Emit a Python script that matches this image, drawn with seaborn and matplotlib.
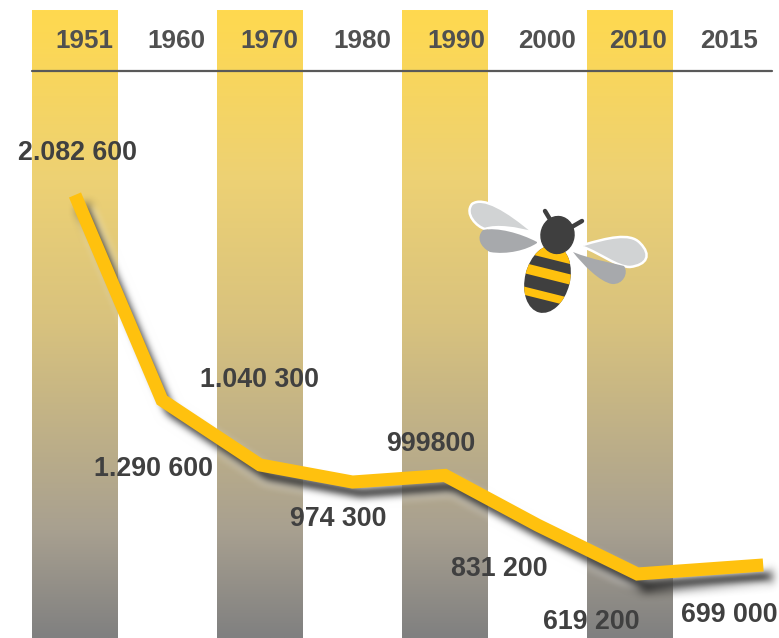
#!/usr/bin/env python3

import numpy as np
import pandas as pd
from matplotlib import pyplot as plt
from matplotlib.colors import LinearSegmentedColormap
from matplotlib.patches import Ellipse, PathPatch
from matplotlib.path import Path
from matplotlib.transforms import Affine2D, ScaledTranslation
import seaborn as sns

years = ['1951', '1960', '1970', '1980', '1990', '2000', '2010', '2015']
year_dx = [9, 8.5, 9, 9.5, 11, 9.5, 8, 6.5]
line_pos = [0.0, 0.94, 2.0, 3.0, 4.0, 5.0, 6.08, 7.44]
# values as the line is drawn in the picture, 2000 and 2015 differ from their labels
line_values = [2082600, 1290600, 1040300, 974300, 999800, 808000, 619200, 654000]
value_labels = ['2.082 600', '1.290 600', '1.040 300', '974 300',
                '999800', '831 200', '619 200', '699 000']
# label offset from its point, in pixels
label_dx = [2, -8, -1, -14.5, -14, -38, -46, -34]
label_dy = [41.5, -69, 85, -37, 31, -44, -48, -50]

W, H = 779, 638
STEP = 92.5
VAL_PER_PX = 3861.0


def px_x(p):
    return (p - 75) / STEP


def px_y(p):
    return 619200 + (574 - p) * VAL_PER_PX


def blur(image, dpi, radius=4):
    # box blur three times, no scipy here
    pad = radius * 4
    img = np.pad(image, ((pad, pad), (pad, pad), (0, 0)))
    kernel = np.ones(2 * radius + 1) / (2 * radius + 1)
    for _ in range(3):
        for axis in (0, 1):
            img = np.apply_along_axis(np.convolve, axis, img, kernel, mode='same')
    return img, -pad, -pad


sns.set_style('white')
plt.rcParams['font.family'] = ['Liberation Sans', 'DejaVu Sans']

fig = plt.figure(figsize=(W / 100, H / 100), dpi=100)
ax = fig.add_axes([0, 0, 1, 1])
ax.axis('off')

band_cmap = LinearSegmentedColormap.from_list(
    'band', [(0.0, '#ffd94f'), (0.27, '#edd174'), (0.5, '#d8c27e'),
             (0.83, '#a8a090'), (1.0, '#808080')])
gradient = np.linspace(0, 1, 256).reshape(-1, 1)
for i in range(0, 8, 2):
    ax.imshow(gradient, cmap=band_cmap, aspect='auto', zorder=1,
              extent=[i - 43 / STEP, i + 43 / STEP, px_y(638), px_y(10)])

df = pd.DataFrame({'pos': line_pos, 'value': line_values})

sns.lineplot(data=df, x='pos', y='value', ax=ax, sort=False, color='#2e2e2e',
             lw=9.4, legend=False, zorder=2)
shadow = ax.lines[-1]
shadow.set_transform(ax.transData + ScaledTranslation(8 / 100, -11 / 100, fig.dpi_scale_trans))
shadow.set_solid_joinstyle('miter')
shadow.set_solid_capstyle('butt')
shadow.set_agg_filter(blur)
shadow.set_rasterized(True)

sns.lineplot(data=df, x='pos', y='value', ax=ax, sort=False, color='#ffc10e',
             lw=9.4, legend=False, zorder=3)
ax.lines[-1].set_solid_joinstyle('miter')
ax.lines[-1].set_solid_capstyle('butt')

ax.set_xlim(px_x(0), px_x(W))
ax.set_ylim(px_y(H), px_y(0))

ax.plot([px_x(32), px_x(772)], [px_y(70.5), px_y(70.5)], color='#595959', lw=1.6, zorder=4)

for i, year in enumerate(years):
    ax.annotate(year, xy=(i, px_y(41)), xytext=(year_dx[i] * 0.72, 0), textcoords='offset points',
                ha='center', va='center', fontsize=18.7, fontweight='bold',
                color='#505050', zorder=5)

for x, y, label, dx, dy in zip(line_pos, line_values, value_labels, label_dx, label_dy):
    ax.annotate(label, xy=(x, y), xytext=(dx * 0.72, dy * 0.72), textcoords='offset points',
                ha='center', va='center', fontsize=19.3, fontweight='bold',
                color='#404040', zorder=5)

# bee, drawn in pixel coordinates on its own layer
bee = fig.add_axes([0, 0, 1, 1], zorder=6)
bee.set_xlim(0, W)
bee.set_ylim(H, 0)
bee.axis('off')
bee.patch.set_alpha(0)


def blob(points, face, edge='none', lw=0):
    codes = [Path.MOVETO] + [Path.CURVE4] * (len(points) - 1)
    bee.add_patch(PathPatch(Path(points, codes), facecolor=face, edgecolor=edge, lw=lw))


blob([(534, 233), (507, 210), (483, 196), (472, 204), (464, 214), (477, 227), (485, 229),
      (497, 225), (517, 228), (534, 233)], '#d1d3d4', 'white', 1.8)
blob([(537, 242), (520, 233), (497, 227), (483, 230), (476, 237), (480, 247), (490, 252),
      (507, 255), (527, 250), (537, 243)], '#a7a9ac')
blob([(583, 245), (607, 238), (630, 232), (640, 243), (652, 255), (647, 265), (630, 267),
      (617, 267), (600, 253), (583, 247)], '#d1d3d4', 'white', 1.8)
blob([(573, 252), (583, 265), (600, 282), (612, 284), (623, 285), (629, 273), (624, 266),
      (613, 263), (593, 260), (573, 252)], '#a7a9ac')

bee.plot([545, 551], [211, 221], color='#3f3f3f', lw=3.2, solid_capstyle='round')
bee.plot([582, 570], [221, 228], color='#3f3f3f', lw=3.2, solid_capstyle='round')

body = Ellipse((547.5, 279), 45, 69, angle=14, facecolor='#3f3f3f', edgecolor='none')
bee.add_patch(body)
stripe_y = [-26, -5, 17]
stripe_h = [12, 10, 8]
for sy, sh in zip(stripe_y, stripe_h):
    rect = plt.Rectangle((-40, sy - sh / 2), 80, sh, facecolor='#ffc10e', edgecolor='none',
                         transform=Affine2D().rotate_deg(14).translate(547.5, 279) + bee.transData)
    bee.add_patch(rect)
    rect.set_clip_path(body)

bee.add_patch(Ellipse((557.5, 235), 33, 37, angle=8, color='#3f3f3f'))

fig.savefig('out.png', dpi=100)
